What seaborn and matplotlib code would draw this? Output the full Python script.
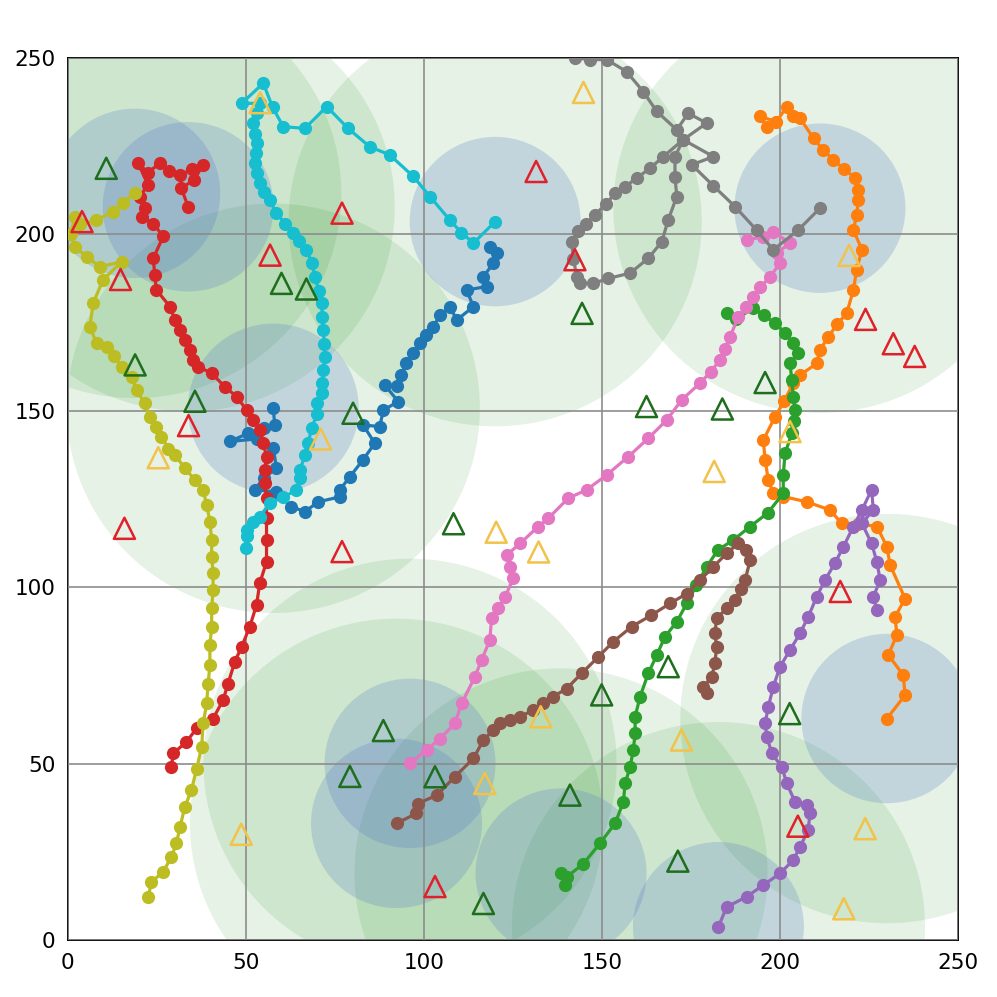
import numpy as np
import pandas as pd
import matplotlib
matplotlib.use("Agg")
import matplotlib.pyplot as plt
from matplotlib.patches import Circle
import seaborn as sns

# ---------------- trajectories (last point = current agent position) ----------------
blue_x = [118.5,120.4,119.5,116.7,117.6,112.0,113.9,109.2,107.3,104.5,102.6,100.5,98.9,97.0,95.1,93.5,92.3,89.0,92.8,88.6,87.6,82.9,86.2,82.9,79.2,76.4,76.4,70.3,66.6,62.8,58.6,52.5,55.0,58.6,57.7,53.0,45.5,50.6,55.0,58.1,57.7]
blue_y = [196.5,194.6,191.8,188.0,185.2,184.2,179.5,175.7,179.5,177.0,173.8,171.5,169.1,166.3,163.4,160.0,156.9,157.3,152.6,150.2,145.5,146.0,140.8,136.1,131.3,127.6,125.6,124.2,121.4,122.8,127.0,127.6,131.0,133.7,139.4,142.0,141.3,143.6,145.0,146.0,150.7]

orange_x = [196.3,194.4,199.0,201.9,203.7,205.6,209.4,212.0,215.0,218.0,221.1,222.0,222.0,221.5,220.6,223.0,221.5,220.6,218.7,216.0,213.6,211.2,210.3,205.6,203.7,201.2,198.6,195.3,195.8,196.7,198.1,200.9,207.5,214.0,217.3,222.0,227.2,230.0,230.9,235.1,232.3,232.8,230.4,234.6,235.1,230.0]
orange_y = [230.5,233.4,231.9,236.2,233.4,232.9,227.2,224.0,221.1,218.5,215.9,212.5,209.7,205.5,201.2,195.6,190.0,184.2,177.6,174.5,171.0,167.2,163.4,160.1,157.8,152.8,148.3,141.7,136.1,130.4,126.6,125.7,124.2,121.9,118.1,118.0,117.2,111.5,106.3,96.8,91.6,86.5,80.8,75.1,69.4,62.8]

green_x = [185.0,187.5,192.5,195.5,198.6,201.5,203.7,205.1,202.8,203.3,203.7,204.2,203.8,203.3,201.4,200.9,200.9,196.5,191.6,186.9,182.5,179.4,176.5,173.8,171.0,167.7,165.4,163.0,160.7,159.3,159.3,158.8,157.9,156.5,156.0,153.7,149.4,144.8,140.1,139.6,138.5]
green_y = [177.6,176.0,179.0,177.0,174.8,172.0,169.1,166.3,163.4,158.7,154.0,150.2,147.0,143.6,137.9,131.8,126.6,121.0,117.2,113.4,110.5,105.8,100.5,95.4,90.2,86.0,80.8,75.6,69.0,63.3,58.6,53.9,49.1,44.4,39.2,33.1,27.4,21.7,17.9,15.6,19.0]

red_x = [29.1,29.6,33.3,36.2,40.8,43.6,45.0,46.9,48.8,51.1,53.0,53.9,55.8,55.8,55.8,55.8,55.3,55.3,55.8,54.9,53.9,52.0,50.2,47.4,44.1,40.4,36.6,35.2,34.3,32.9,31.5,30.1,28.7,24.9,24.4,24.0,26.8,24.0,20.7,21.6,20.2,22.5,19.8,22.5,25.8,28.5,31.5,35.0,38.0,35.5,31.9,33.8]
red_y = [49.1,52.9,56.2,60.0,62.8,68.0,72.7,78.9,83.1,88.8,95.0,101.1,107.2,113.4,119.5,125.2,129.4,133.2,137.0,140.8,144.6,147.4,150.2,154.0,156.8,160.6,162.5,164.4,167.2,170.1,172.9,175.7,179.5,184.2,188.5,193.2,199.4,203.0,205.0,207.4,210.7,214.0,220.1,217.5,220.1,218.0,216.8,218.5,219.7,215.5,213.0,207.8]

purple_x = [227.2,226.2,228.1,227.2,225.7,223.0,226.2,225.7,223.0,220.6,217.8,215.4,212.6,210.3,207.9,205.6,202.8,200.0,198.1,196.7,195.8,196.3,197.7,200.5,201.9,204.2,207.5,208.4,207.9,205.6,203.7,200.0,195.3,190.6,185.0,182.7]
purple_y = [93.5,97.3,102.0,107.2,112.4,118.1,121.9,127.6,121.9,117.2,111.5,106.8,102.0,97.3,91.6,86.9,82.2,77.5,71.8,66.1,61.4,57.6,52.9,49.1,44.4,39.2,38.3,35.9,31.2,26.4,22.7,18.9,15.6,12.3,9.4,3.8]

brown_x = [179.4,178.5,180.8,181.7,182.2,181.7,182.2,185.0,187.4,189.0,190.2,191.6,190.5,188.3,185.0,181.3,177.5,173.8,169.1,163.9,158.3,153.2,149.0,144.3,140.1,136.3,133.5,130.7,127.0,124.2,121.3,119.5,116.7,113.9,108.7,103.6,98.4,97.9,92.3]
brown_y = [69.9,71.8,74.6,78.4,83.1,86.9,91.2,94.0,96.4,99.5,102.0,107.7,110.5,112.4,109.6,105.8,102.0,98.2,95.4,92.1,88.8,84.6,80.3,75.6,71.3,69.0,67.1,65.2,63.3,62.4,61.4,59.5,56.7,51.5,46.3,41.1,38.7,35.9,33.1]

pink_x = [190.6,195.3,198.1,202.8,199.1,200.0,197.2,194.5,192.5,190.5,188.3,186.0,184.5,183.1,180.5,177.5,172.4,168.2,163.0,157.4,151.3,145.7,140.5,134.9,132.1,127.0,123.2,124.2,125.1,122.8,120.9,119.0,118.5,116.2,114.3,110.6,108.7,104.5,100.8,96.1]
pink_y = [198.4,199.3,200.7,197.5,194.7,191.8,188.0,185.0,182.3,179.5,176.7,171.0,167.5,164.4,161.0,157.8,153.1,147.4,142.2,137.0,131.8,127.6,125.2,119.5,117.2,112.4,109.1,105.8,102.5,97.3,94.0,91.2,85.0,79.4,74.6,67.1,61.4,57.1,53.9,50.1]

gray_x = [142.4,146.6,151.3,156.9,161.6,165.4,171.0,174.2,179.4,172.8,167.2,163.5,159.7,156.5,153.7,151.0,148.0,145.5,143.3,141.5,142.0,142.9,143.8,147.6,151.8,157.9,163.0,166.8,168.6,171.0,170.5,170.5,172.8,181.3,175.2,181.3,187.4,193.4,198.1,205.1,211.2]
gray_y = [250.0,249.5,249.5,246.1,240.4,234.8,229.6,234.3,231.5,226.8,222.0,218.7,215.9,213.5,211.6,208.5,205.5,203.0,200.8,197.9,193.0,188.0,186.1,186.1,187.5,189.0,193.2,197.9,204.1,210.7,216.3,222.0,226.8,222.0,219.7,213.7,207.8,201.2,195.6,201.2,207.4]

olive_x = [22.6,23.5,26.8,29.1,30.5,31.5,32.9,34.7,36.2,37.6,38.0,39.0,39.4,39.9,39.9,40.4,40.4,40.8,40.8,40.4,40.4,39.9,39.0,38.0,35.7,32.9,30.1,28.2,26.3,24.9,23.0,21.6,19.3,17.9,15.1,13.0,10.9,8.1,6.2,7.1,9.9,15.1,9.0,5.5,2.0,0.8,2.0,3.4,8.0,12.7,15.5,18.8]
olive_y = [12.3,16.5,19.4,23.6,27.4,32.1,37.8,42.5,48.6,54.8,61.4,67.1,72.7,77.9,83.6,88.8,94.0,99.2,103.9,108.6,113.4,118.6,123.3,127.6,130.4,133.7,137.5,139.3,142.7,145.5,148.3,152.1,155.9,159.7,162.5,165.5,168.2,169.1,173.8,180.4,187.1,192.2,190.8,193.5,196.5,200.0,205.0,202.8,204.0,206.4,209.0,211.6]

cyan_x = [50.0,50.2,50.2,52.0,53.9,56.7,60.5,64.2,65.2,65.2,66.6,67.5,68.5,69.9,69.9,71.3,71.3,71.8,72.2,72.0,71.7,71.5,71.3,70.5,69.4,68.5,67.0,65.0,63.3,61.0,58.6,56.7,55.0,53.9,53.0,52.5,52.8,53.0,52.5,52.0,53.0,53.9,48.8,54.9,57.5,60.5,66.6,72.7,78.7,84.8,90.4,97.0,101.7,107.3,110.5,113.9,120.0]
cyan_y = [111.0,114.5,116.2,118.5,120.0,123.8,125.5,127.6,131.0,133.2,137.5,141.0,145.0,149.0,152.1,155.0,157.8,161.5,165.3,169.0,172.9,176.5,180.4,184.0,188.0,192.0,195.6,198.0,200.3,203.0,206.0,209.7,212.0,214.5,217.5,220.2,223.0,225.8,228.5,231.5,234.5,237.1,237.1,242.8,236.0,230.5,230.0,236.2,230.0,224.8,222.5,216.4,210.7,204.0,200.5,197.5,203.6]

agent_names = ["blue", "orange", "green", "red", "purple", "brown", "pink", "gray", "olive", "cyan"]
agent_xs = [blue_x, orange_x, green_x, red_x, purple_x, brown_x, pink_x, gray_x, olive_x, cyan_x]
agent_ys = [blue_y, orange_y, green_y, red_y, purple_y, brown_y, pink_y, gray_y, olive_y, cyan_y]

# ---------------- targets (hollow triangles) ----------------
red_tri_x = [131.5, 4.0, 14.8, 33.9, 15.9, 56.8, 77.0, 77.0, 142.4, 224.0, 231.8, 237.8, 216.9, 205.0, 103.1]
red_tri_y = [217.8, 203.6, 187.2, 145.8, 116.7, 194.1, 206.0, 110.1, 192.8, 175.9, 169.0, 165.4, 98.8, 32.3, 15.2]

green_tri_x = [10.8, 18.9, 35.7, 60.0, 67.0, 80.1, 108.3, 144.4, 162.5, 183.8, 195.8, 168.6, 202.7, 149.9, 88.6, 79.2, 103.1, 141.0, 171.3, 116.7]
green_tri_y = [218.7, 163.0, 152.7, 186.1, 184.5, 149.3, 118.0, 177.6, 151.2, 150.5, 158.0, 77.5, 64.2, 69.5, 59.4, 46.4, 46.3, 41.1, 22.4, 10.4]

yellow_tri_x = [54.0, 144.8, 71.0, 25.4, 120.3, 132.2, 181.5, 202.8, 219.4, 48.7, 117.1, 132.8, 172.3, 223.9, 217.9]
yellow_tri_y = [237.3, 240.2, 142.0, 136.7, 115.6, 110.0, 132.8, 144.1, 194.0, 30.0, 44.4, 63.3, 56.7, 31.6, 8.9]

# ---------------- figure ----------------
sns.set_style("white")
fig = plt.figure(figsize=(9.97, 9.97), dpi=100)
ax = fig.add_axes([0.068, 0.057, 0.893, 0.885])

palette = sns.color_palette("tab10", 10)

# sensing ranges (green) and capture ranges (blue) around each agent's current position
green_r = 58
blue_r = 24
for xs, ys in zip(agent_xs, agent_ys):
    ax.add_patch(Circle((xs[-1], ys[-1]), green_r, facecolor="green", edgecolor="none", alpha=0.10, zorder=1))
for xs, ys in zip(agent_xs, agent_ys):
    ax.add_patch(Circle((xs[-1], ys[-1]), blue_r, facecolor="#5b7fc7", edgecolor="none", alpha=0.25, zorder=1.1))

rows = []
for name, xs, ys in zip(agent_names, agent_xs, agent_ys):
    for i, (x, y) in enumerate(zip(xs, ys)):
        rows.append({"agent": name, "step": i, "x": x, "y": y})
df = pd.DataFrame(rows)

sns.lineplot(data=df, x="x", y="y", hue="agent", hue_order=agent_names,
             palette=palette, sort=False, estimator=None, units="agent",
             marker="o", markersize=9.5, markeredgewidth=0, linewidth=2.3,
             legend=False, ax=ax, zorder=3)

tri_kw = dict(marker="^", s=230, facecolors="none", linewidths=1.8, zorder=4)
ax.scatter(red_tri_x, red_tri_y, edgecolors="#e0202a", **tri_kw)
ax.scatter(green_tri_x, green_tri_y, edgecolors="#1e6e1e", **tri_kw)
ax.scatter(yellow_tri_x, yellow_tri_y, edgecolors="#f2c24a", **tri_kw)

ax.set_xlim(0, 250)
ax.set_ylim(0, 250)
ticks = [0, 50, 100, 150, 200, 250]
ax.set_xticks(ticks)
ax.set_yticks(ticks)
ax.set_xticklabels([str(t) for t in ticks])
ax.set_yticklabels([str(t) for t in ticks])
ax.tick_params(axis="both", labelsize=15.5, length=5.5, width=1.2, colors="black", direction="out")
ax.grid(True, color="#8c8c8c", linewidth=1.2, zorder=2)
ax.set_axisbelow(False)
for sp in ax.spines.values():
    sp.set_linewidth(1.3)
    sp.set_color("black")
ax.set_xlabel("")
ax.set_ylabel("")

fig.savefig("out.png", dpi=100)
